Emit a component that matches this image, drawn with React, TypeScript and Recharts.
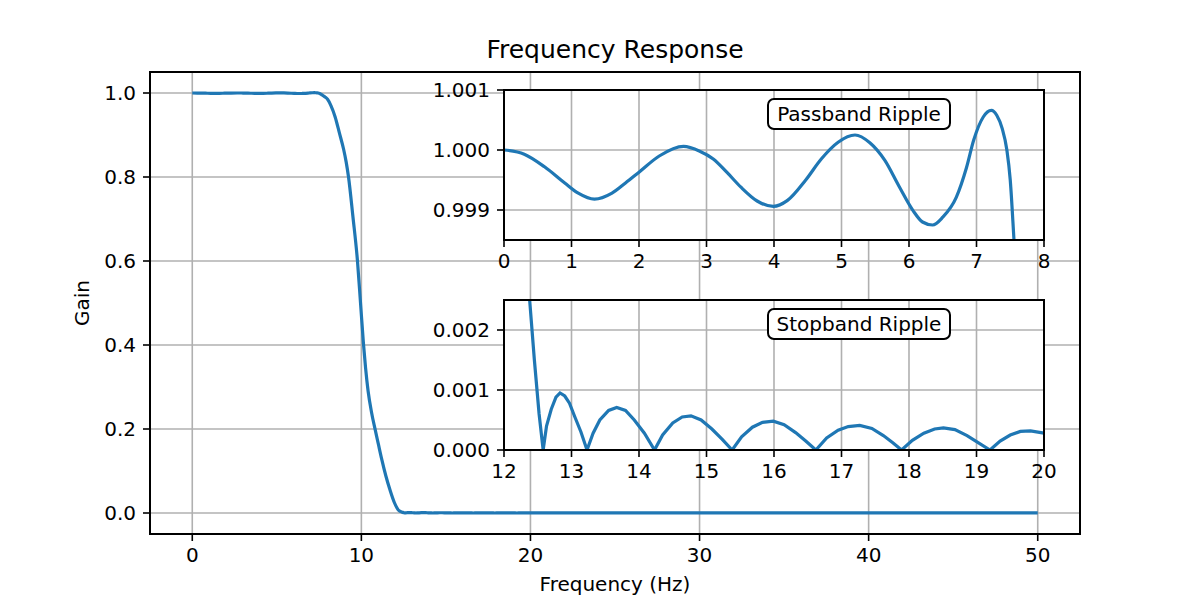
import React from "react";
import { LineChart, Line, XAxis, YAxis, CartesianGrid } from "recharts";

// passband ripple (Hz, gain)
const passFreq = [0, 0.3, 0.6, 0.9, 1.1, 1.34, 1.6, 1.8, 2.0, 2.3, 2.66, 2.9, 3.1, 3.3, 3.51, 3.75, 3.99, 4.2, 4.47, 4.7, 4.95, 5.2, 5.42, 5.64, 5.85, 6.06, 6.2, 6.35, 6.5, 6.7, 6.85, 6.96, 7.1, 7.22, 7.3, 7.38, 7.45, 7.5, 7.55, 7.6, 7.65];
const passGain = [1.0, 0.99993, 0.99972, 0.99945, 0.99928, 0.99918, 0.99928, 0.99945, 0.99963, 0.9999, 1.00006, 0.99998, 0.99985, 0.99963, 0.99938, 0.99915, 0.99906, 0.99916, 0.9995, 0.99985, 1.00013, 1.00025, 1.00012, 0.99983, 0.9994, 0.99899, 0.9988, 0.99875, 0.99888, 0.99921, 0.9997, 1.00017, 1.00055, 1.00066, 1.00058, 1.00036, 1.0, 0.9995, 0.9986, 0.9976, 0.9962];

// transition band
const transFreq = [7.72, 7.85, 8.0, 8.2, 8.45, 8.7, 8.95, 9.1, 9.24, 9.5, 9.77, 9.95, 10.12, 10.25, 10.4, 10.6, 10.82, 11.0, 11.21, 11.45, 11.7, 11.95, 12.1, 12.2];
const transGain = [0.994, 0.9905, 0.985, 0.97, 0.943, 0.905, 0.866, 0.836, 0.8, 0.706, 0.6, 0.5, 0.405, 0.345, 0.29, 0.24, 0.198, 0.165, 0.127, 0.088, 0.054, 0.025, 0.0125, 0.0065];

// stopband ripple
const stopFreq = [12.3, 12.38, 12.45, 12.52, 12.58, 12.63, 12.7, 12.77, 12.83, 12.9, 12.97, 13.05, 13.14, 13.23, 13.32, 13.42, 13.55, 13.67, 13.8, 13.93, 14.08, 14.23, 14.35, 14.5, 14.64, 14.77, 14.92, 15.08, 15.23, 15.38, 15.52, 15.68, 15.83, 15.99, 16.15, 16.32, 16.47, 16.62, 16.78, 16.95, 17.1, 17.27, 17.45, 17.62, 17.76, 17.89, 18.05, 18.22, 18.38, 18.51, 18.68, 18.86, 19.03, 19.2, 19.35, 19.5, 19.65, 19.8, 20.0];
const stopGain = [0.0038, 0.0025, 0.0015, 0.0006, 0.0, 0.0004, 0.00068, 0.00088, 0.00095, 0.0009, 0.00078, 0.00055, 0.0003, 0.0, 0.00028, 0.0005, 0.00066, 0.00071, 0.00066, 0.0005, 0.00028, 0.0, 0.00025, 0.00045, 0.00055, 0.00057, 0.0005, 0.00035, 0.00018, 0.0, 0.00022, 0.00038, 0.00046, 0.00048, 0.00042, 0.00029, 0.00015, 0.0, 0.0002, 0.00033, 0.00039, 0.00041, 0.00036, 0.00024, 0.00012, 0.0, 0.00016, 0.00028, 0.00035, 0.00037, 0.00034, 0.00024, 0.00012, 0.0, 0.00015, 0.00025, 0.00031, 0.00032, 0.00028];

// rest of the stopband, flat on the main axes
const tailFreq = [25, 30, 35, 40, 45, 50];
const tailGain = [0.0002, 0.0002, 0.0001, 0.0001, 0.0001, 0.0001];

const mainXTicks = [0, 10, 20, 30, 40, 50];
const mainYTicks = [0, 0.2, 0.4, 0.6, 0.8, 1.0];
const passXTicks = [0, 1, 2, 3, 4, 5, 6, 7, 8];
const passYTicks = [0.999, 1.0, 1.001];
const stopXTicks = [12, 13, 14, 15, 16, 17, 18, 19, 20];
const stopYTicks = [0, 0.001, 0.002];

const zip = (fs: number[], gs: number[]) => fs.map((f, i) => ({ f, g: gs[i] }));

const passData = zip(passFreq, passGain);
const stopData = zip(stopFreq, stopGain);
const mainData = [
  ...passData,
  ...zip(transFreq, transGain),
  ...stopData,
  ...zip(tailFreq, tailGain),
];

const FONT = "DejaVu Sans";
const BLUE = "#1f77b4";
const tickStyle = { fill: "#000", fontSize: 20, fontFamily: FONT };
const blackLine = { stroke: "#000", strokeWidth: 1.6 };

// black box round an axes area, like matplotlib's spines
function Frame({ left, top, width, height }: { left: number; top: number; width: number; height: number }) {
  return (
    <div
      style={{
        position: "absolute",
        left: left - 1,
        top: top - 1,
        width: width + 2,
        height: height + 2,
        boxSizing: "border-box",
        border: "2px solid #000",
        pointerEvents: "none",
      }}
    />
  );
}

function Inset({
  top,
  data,
  xDomain,
  yDomain,
  xTicks,
  yTicks,
  curve,
}: {
  top: number;
  data: { f: number; g: number }[];
  xDomain: [number, number];
  yDomain: [number, number];
  xTicks: number[];
  yTicks: number[];
  curve: "monotone" | "linear";
}) {
  return (
    <div style={{ position: "absolute", left: 404, top }}>
      <LineChart width={660} height={205} data={data} margin={{ top: 15, right: 20, left: 0, bottom: 0 }}>
        <CartesianGrid stroke="#b0b0b0" strokeWidth={1.6} fill="#fff" fillOpacity={1} />
        <XAxis
          dataKey="f"
          type="number"
          domain={xDomain}
          ticks={xTicks}
          interval={0}
          height={40}
          tickSize={7}
          tickMargin={7}
          tick={tickStyle}
          tickLine={blackLine}
          axisLine={false}
        />
        <YAxis
          type="number"
          domain={yDomain}
          ticks={yTicks}
          interval={0}
          allowDataOverflow
          width={100}
          tickSize={7}
          tickMargin={7}
          tick={tickStyle}
          tickLine={blackLine}
          axisLine={false}
          tickFormatter={(v: number) => v.toFixed(3)}
        />
        <Line
          type={curve}
          dataKey="g"
          stroke={BLUE}
          strokeWidth={3.2}
          dot={false}
          isAnimationActive={false}
        />
      </LineChart>
      <Frame left={100} top={15} width={540} height={150} />
    </div>
  );
}

const boxStyle: React.CSSProperties = {
  position: "absolute",
  left: 767,
  width: 184,
  height: 32,
  boxSizing: "border-box",
  border: "2px solid #000",
  borderRadius: 7,
  background: "#fff",
  fontFamily: FONT,
  fontSize: 20,
  display: "flex",
  alignItems: "center",
  justifyContent: "center",
  whiteSpace: "nowrap",
};

export default function App() {
  return (
    <div style={{ position: "absolute", left: 0, top: 0, width: 1200, height: 600, background: "#fff", fontFamily: FONT }}>
      <div style={{ position: "absolute", left: 0, top: 0 }}>
        <LineChart width={1200} height={600} data={mainData} margin={{ top: 72, right: 120, left: 0, bottom: 0 }}>
          <CartesianGrid stroke="#b0b0b0" strokeWidth={1.6} />
          <XAxis
            dataKey="f"
            type="number"
            domain={[-2.5, 52.5]}
            ticks={mainXTicks}
            interval={0}
            height={66}
            tickSize={7}
            tickMargin={7}
            tick={tickStyle}
            tickLine={blackLine}
            axisLine={false}
          />
          <YAxis
            type="number"
            domain={[-0.05, 1.05]}
            ticks={mainYTicks}
            interval={0}
            width={150}
            tickSize={7}
            tickMargin={7}
            tick={tickStyle}
            tickLine={blackLine}
            axisLine={false}
            tickFormatter={(v: number) => v.toFixed(1)}
          />
          <Line type="monotone" dataKey="g" stroke={BLUE} strokeWidth={3.2} dot={false} isAnimationActive={false} />
        </LineChart>
        <Frame left={150} top={72} width={930} height={462} />
      </div>

      <Inset
        top={75}
        data={passData}
        xDomain={[0, 8]}
        yDomain={[0.9985, 1.001]}
        xTicks={passXTicks}
        yTicks={passYTicks}
        curve="monotone"
      />
      <Inset
        top={285}
        data={stopData}
        xDomain={[12, 20]}
        yDomain={[0, 0.0025]}
        xTicks={stopXTicks}
        yTicks={stopYTicks}
        curve="linear"
      />

      <div style={{ ...boxStyle, top: 98 }}>Passband Ripple</div>
      <div style={{ ...boxStyle, top: 308 }}>Stopband Ripple</div>

      <div style={{ position: "absolute", left: 415, width: 400, top: 35, textAlign: "center", fontSize: 25, lineHeight: "30px" }}>
        Frequency Response
      </div>
      <div style={{ position: "absolute", left: 415, width: 400, top: 571, textAlign: "center", fontSize: 20, lineHeight: "26px" }}>
        Frequency (Hz)
      </div>
      <div
        style={{
          position: "absolute",
          left: 32,
          width: 100,
          top: 290,
          textAlign: "center",
          fontSize: 20,
          lineHeight: "26px",
          transform: "rotate(-90deg)",
        }}
      >
        Gain
      </div>
    </div>
  );
}
